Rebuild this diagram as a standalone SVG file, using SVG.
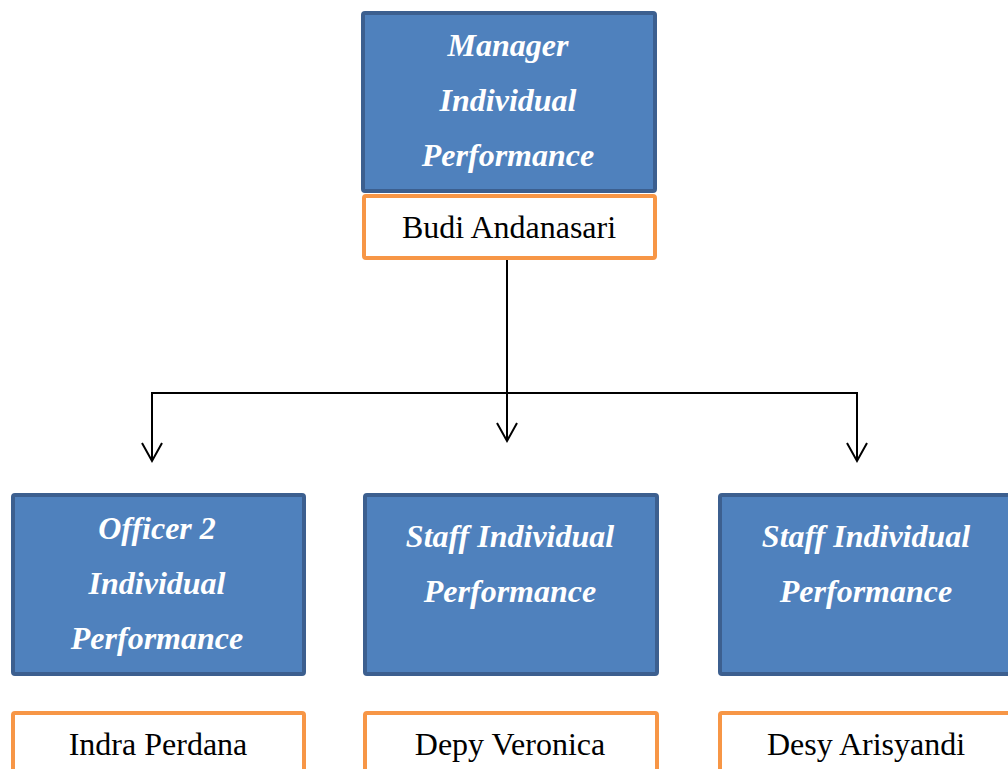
<svg xmlns="http://www.w3.org/2000/svg" width="1008" height="769" viewBox="0 0 1008 769">
<style>
.role{fill:#4F81BD;stroke:#3C5F8F;stroke-width:4}
.name{fill:#FFFFFF;stroke:#F79646;stroke-width:4}
.rt{font-family:"Liberation Serif","Times New Roman",serif;font-size:32px;font-weight:bold;font-style:italic;fill:#FFFFFF;text-anchor:middle}
.nt{font-family:"Liberation Serif","Times New Roman",serif;font-size:32px;fill:#000000;text-anchor:middle}
.ln{fill:none;stroke:#000000;stroke-width:2}
</style>
<rect width="1008" height="769" fill="#FFFFFF"/>
<g id="connectors">
<path class="ln" d="M507,259 V441"/>
<path class="ln" d="M152,461 V393 H857 V461"/>
<path class="ln" d="M497,423 L507,441 L517,423"/>
<path class="ln" d="M142,443 L152,461 L162,443"/>
<path class="ln" d="M847,443 L857,461 L867,443"/>
</g>
<g id="manager">
<rect class="role" x="363" y="13" width="292" height="178" rx="2"/>
<text class="rt" x="508" y="56">Manager</text>
<text class="rt" x="508" y="111">Individual</text>
<text class="rt" x="508" y="166">Performance</text>
</g>
<g id="manager-name">
<rect class="name" x="364" y="196" width="291" height="62" rx="2"/>
<text class="nt" x="509" y="238">Budi Andanasari</text>
</g>
<g id="officer2">
<rect class="role" x="13" y="495" width="291" height="179" rx="2"/>
<text class="rt" x="157" y="539">Officer 2</text>
<text class="rt" x="157" y="594">Individual</text>
<text class="rt" x="157" y="649">Performance</text>
</g>
<g id="officer2-name">
<rect class="name" x="13" y="713" width="291" height="62" rx="2"/>
<text class="nt" x="158" y="755">Indra Perdana</text>
</g>
<g id="staff1">
<rect class="role" x="365" y="495" width="292" height="179" rx="2"/>
<text class="rt" x="510" y="547">Staff Individual</text>
<text class="rt" x="510" y="602">Performance</text>
</g>
<g id="staff1-name">
<rect class="name" x="365" y="713" width="292" height="62" rx="2"/>
<text class="nt" x="510" y="755">Depy Veronica</text>
</g>
<g id="staff2">
<rect class="role" x="720" y="495" width="292" height="179" rx="2"/>
<text class="rt" x="866" y="547">Staff Individual</text>
<text class="rt" x="866" y="602">Performance</text>
</g>
<g id="staff2-name">
<rect class="name" x="720" y="713" width="292" height="62" rx="2"/>
<text class="nt" x="866" y="755">Desy Arisyandi</text>
</g>
</svg>
